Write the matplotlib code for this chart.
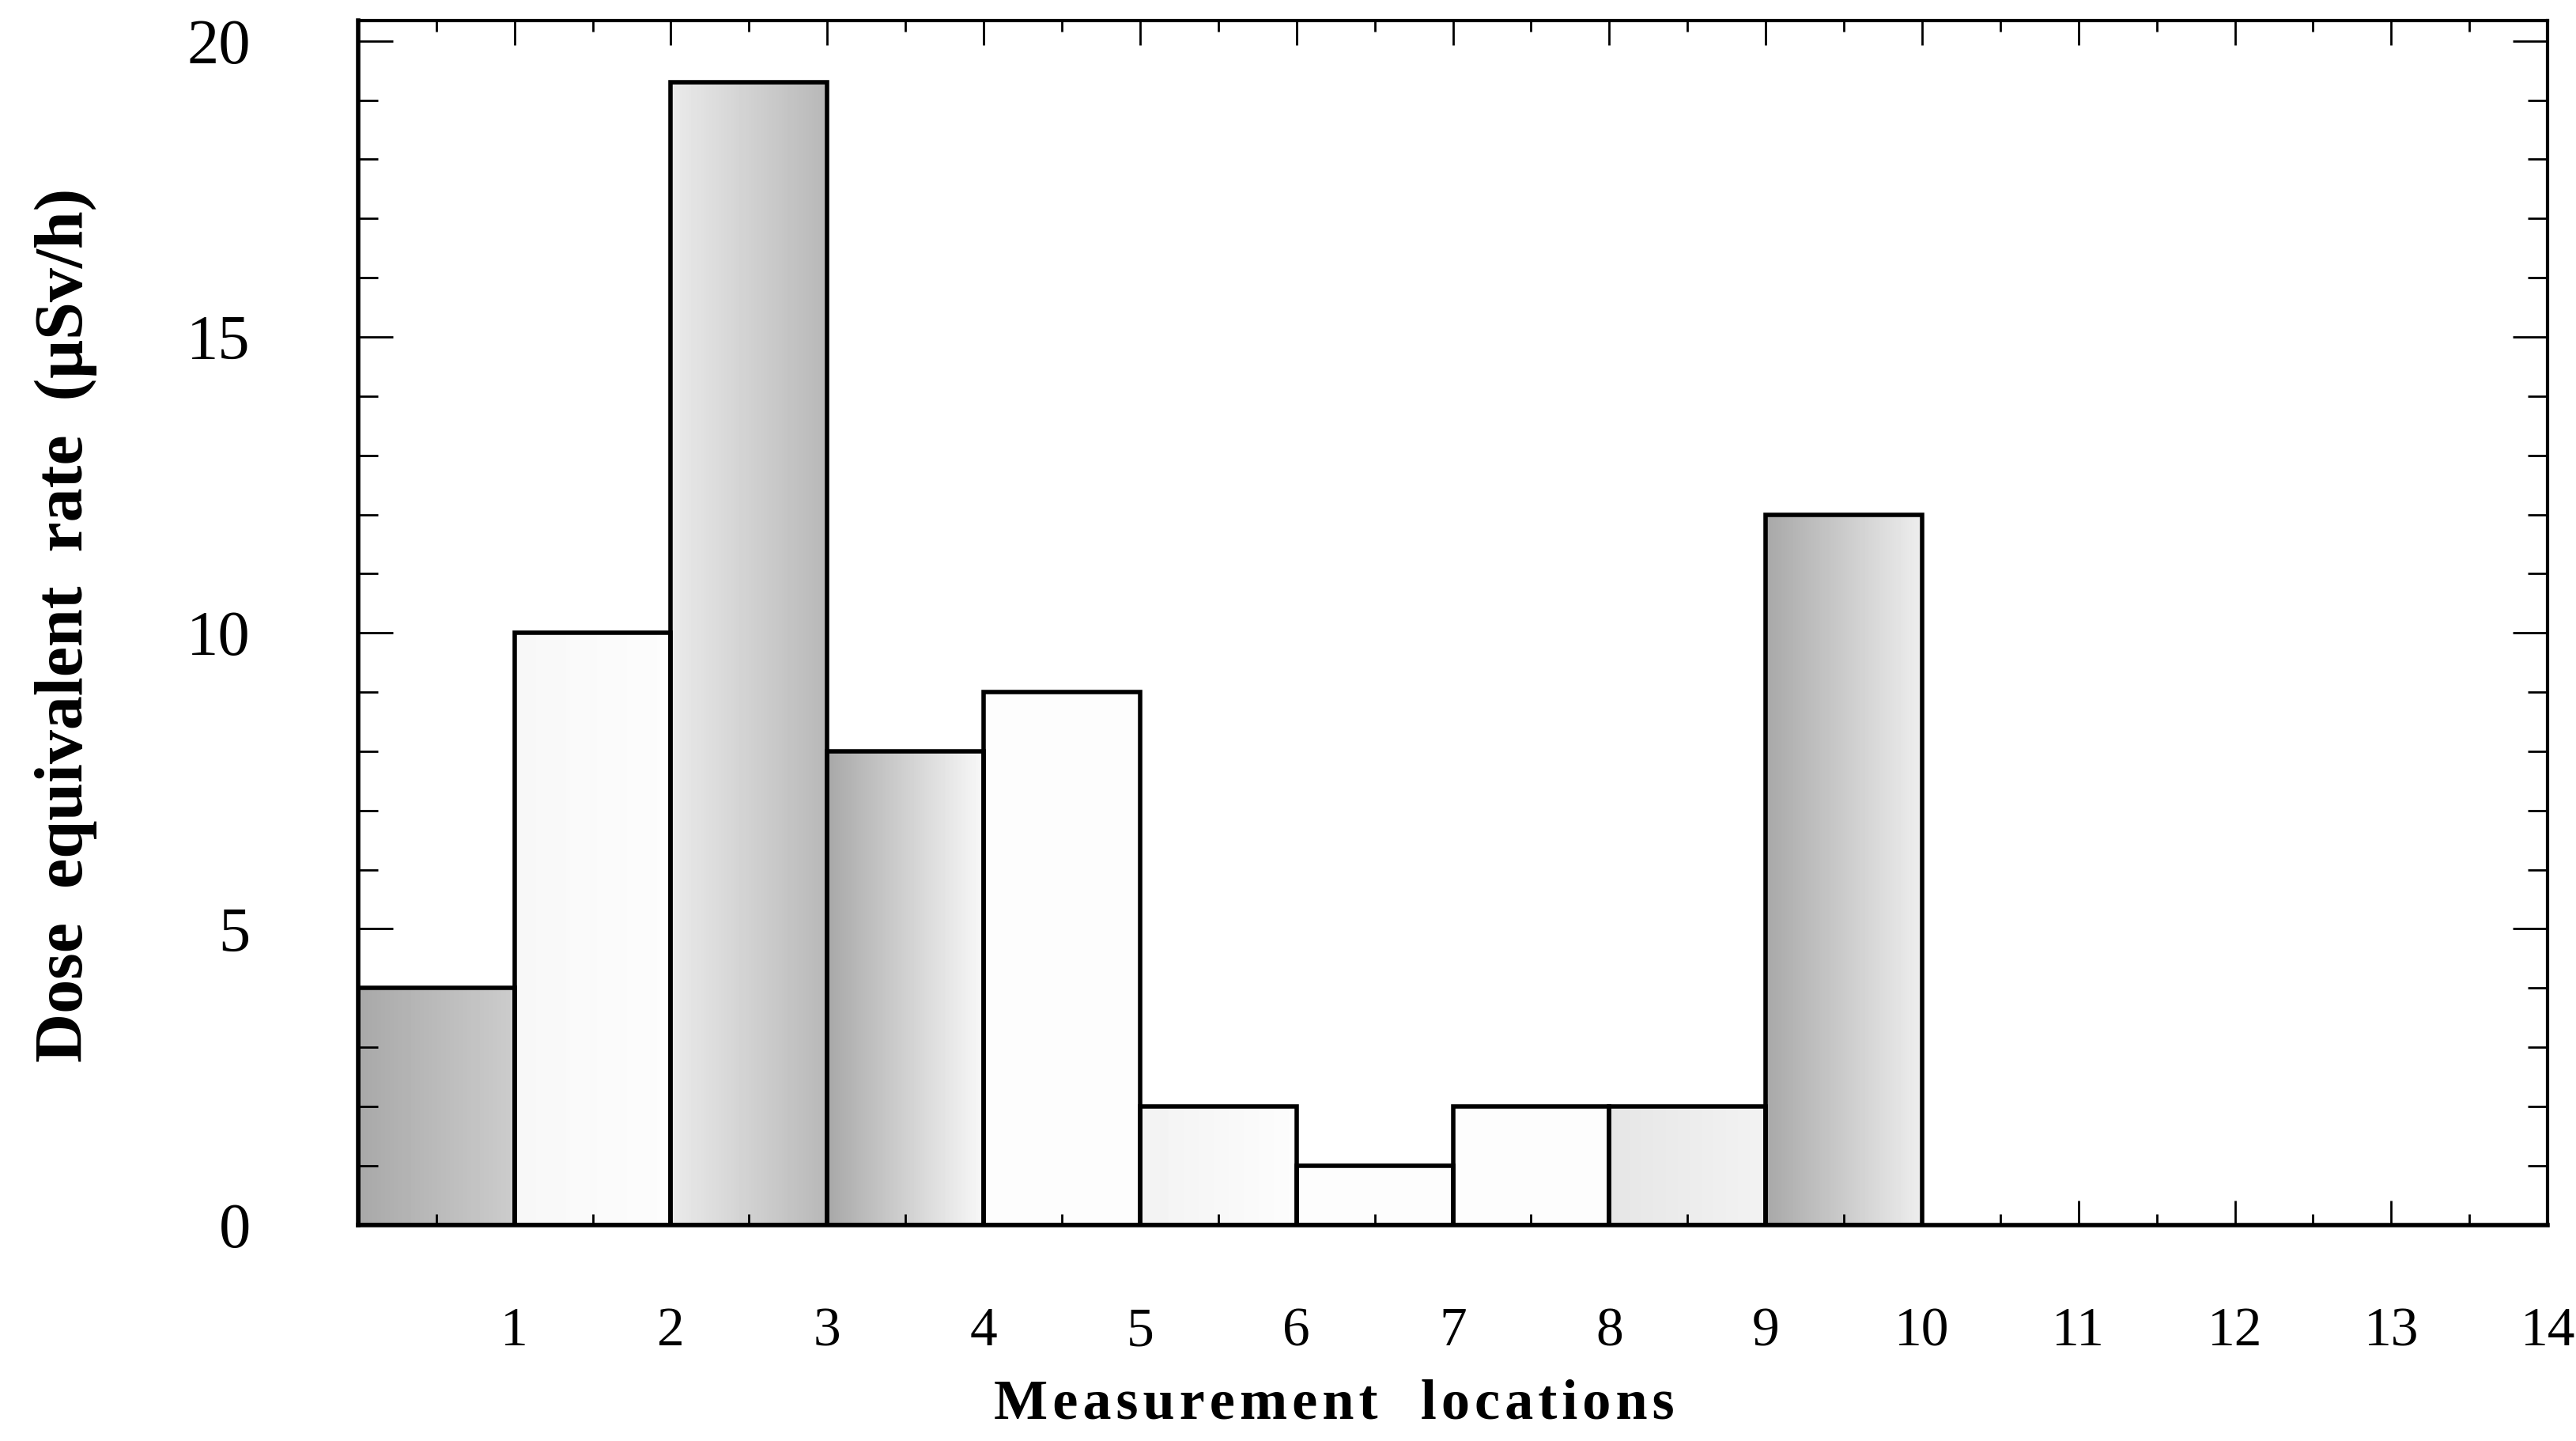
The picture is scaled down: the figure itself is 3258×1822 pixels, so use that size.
import numpy as np
import matplotlib
matplotlib.use('Agg')
import matplotlib.pyplot as plt
from matplotlib.ticker import MultipleLocator, FixedLocator

# measurement location i is drawn as a bar spanning [i-1, i]
locations = np.arange(1, 11)
dose_rate = [4, 10, 19.3, 8, 9, 2, 1, 2, 2, 12]   # uSv/h
x_ticks = np.arange(1, 15)
y_ticks = [0, 5, 10, 15, 20]

# grey level of the stipple, left edge -> right edge of each bar
shade_left = [0.66, 0.97, 0.92, 0.66, 0.99, 0.95, 0.99, 0.99, 0.90, 0.66]
shade_right = [0.80, 0.99, 0.72, 0.97, 0.99, 0.99, 0.99, 0.99, 0.95, 0.93]

plt.rcParams['font.family'] = ['Liberation Serif', 'DejaVu Serif']


def spaced(s):
    # scanned labels are letter-spaced
    return '\u200a'.join(s)


fig = plt.figure(figsize=(32.58, 18.22), dpi=100)
fig.patch.set_facecolor('white')
ax = fig.add_axes([0.139, 0.150, 0.850, 0.836])

# shaded fills (gradient) under each bar
for loc, h, l, r in zip(locations, dose_rate, shade_left, shade_right):
    grad = np.linspace(l, r, 64)[None, :]
    ax.imshow(grad, cmap='gray', vmin=0, vmax=1, aspect='auto',
              extent=(loc - 1, loc, 0, h), interpolation='bilinear', zorder=1)

ax.bar(locations - 0.5, dose_rate, width=1.0, facecolor='none',
       edgecolor='black', linewidth=4, zorder=2)

ax.set_xlim(0, 14)
ax.set_ylim(0, 20.35)

ax.xaxis.set_major_locator(FixedLocator(x_ticks))
ax.xaxis.set_minor_locator(MultipleLocator(0.5))
ax.yaxis.set_major_locator(FixedLocator(y_ticks))
ax.yaxis.set_minor_locator(MultipleLocator(1))
ax.set_xticklabels([str(v) for v in x_ticks])
ax.set_yticklabels([str(v) for v in y_ticks])

ax.tick_params(which='both', direction='in', top=True, right=True,
               width=2, color='black')
ax.tick_params(axis='x', which='major', length=22, pad=75, labelsize=50)
ax.tick_params(axis='x', which='minor', length=10)
ax.tick_params(axis='y', which='major', length=32, pad=98, labelsize=58)
ax.tick_params(axis='y', which='minor', length=18)

for side in ['left', 'bottom']:
    ax.spines[side].set_linewidth(4)
for side in ['top', 'right']:
    ax.spines[side].set_linewidth(3)

fig.text(0.518, 0.025, spaced('Measurement') + '   ' + spaced('locations'),
         ha='center', va='center', fontsize=52, fontweight='bold')
fig.text(0.0255, 0.566, 'Dose  equivalent  rate  (μSv/h)', ha='center',
         va='center', rotation=90, fontsize=62, fontweight='bold')

fig.savefig('out.png', dpi=100, facecolor='white')
